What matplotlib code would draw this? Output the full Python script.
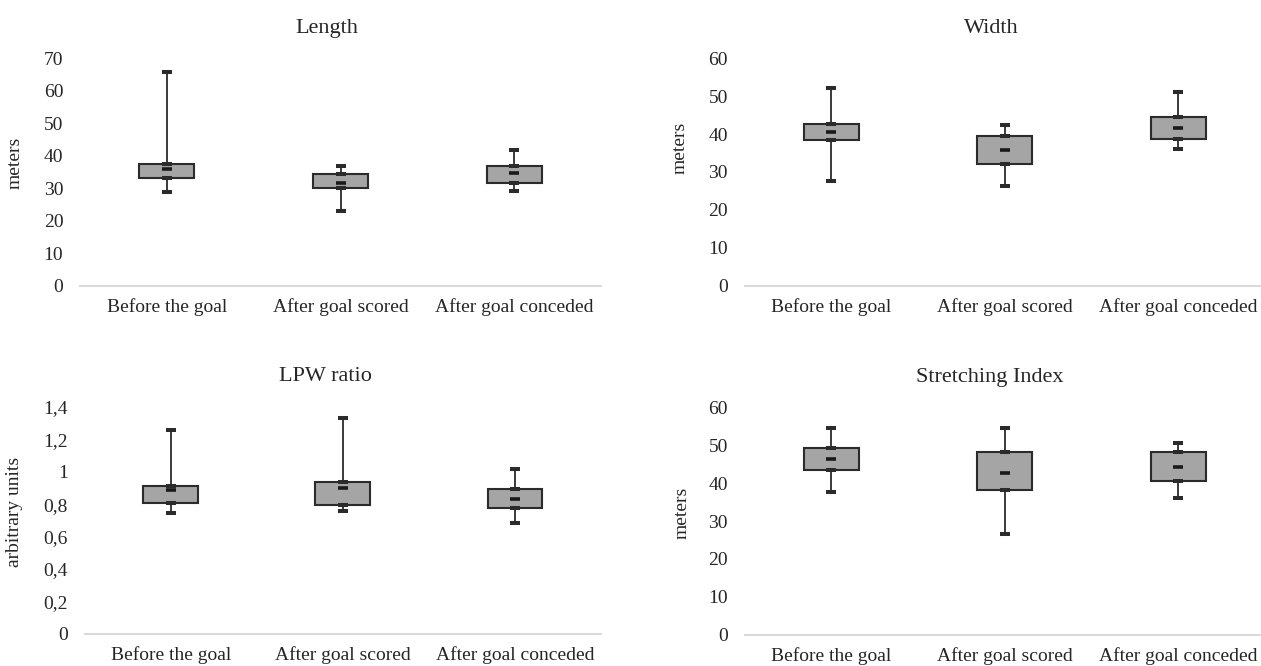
import numpy as np
import matplotlib.pyplot as plt
from matplotlib.ticker import FuncFormatter

plt.rcParams['font.family'] = ['Liberation Serif', 'DejaVu Serif']

# ---------------- datos ----------------
categories = ["Before the goal", "After goal scored", "After goal conceded"]

# Length (meters)
len_min = [28.9, 23.0, 29.1]
len_q1 = [33.0, 30.2, 31.6]
len_med = [35.9, 31.6, 34.6]
len_q3 = [37.4, 34.4, 36.7]
len_max = [65.8, 36.7, 41.8]

# Width (meters)
wid_min = [27.6, 26.4, 36.1]
wid_q1 = [38.4, 32.2, 38.6]
wid_med = [40.6, 35.7, 41.5]
wid_q3 = [42.6, 39.4, 44.4]
wid_max = [52.2, 42.5, 51.2]

# LPW ratio (arbitrary units)
lpw_min = [0.743, 0.756, 0.686]
lpw_q1 = [0.809, 0.792, 0.776]
lpw_med = [0.887, 0.901, 0.830]
lpw_q3 = [0.912, 0.934, 0.893]
lpw_max = [1.255, 1.329, 1.018]

# Stretching Index (meters)
si_min = [37.6, 26.6, 36.1]
si_q1 = [43.5, 38.2, 40.5]
si_med = [46.4, 42.7, 44.3]
si_q3 = [49.3, 48.3, 48.3]
si_max = [54.5, 54.5, 50.6]

TXT = '#262626'
BOX = '#a5a5a5'
EDGE = '#2b2b2b'
AXIS = '#d9d9d9'

W, H = 1261, 666
fig = plt.figure(figsize=(W / 100, H / 100), dpi=100)


def px_axes(x0, x1, ytop, ybot):
    return fig.add_axes([x0 / W, (H - ybot) / H, (x1 - x0) / W, (ybot - ytop) / H])


def draw_panel(ax, mn, q1, med, q3, mx, title, ylabel, ymax, ystep, xright,
               title_x, ylab_x, ylab_y, comma=False):
    x = np.arange(len(categories))
    mn, q1, med, q3, mx = map(np.array, (mn, q1, med, q3, mx))
    ax.bar(x, q3 - q1, bottom=q1, width=0.318, color=BOX, edgecolor=EDGE,
           linewidth=1.5, zorder=2)
    # bigotes (con tapa en ambos extremos, estilo Excel)
    ax.errorbar(x, q3, yerr=[np.zeros(3), mx - q3], fmt='none', ecolor=EDGE,
                elinewidth=1.3, capsize=3.4, capthick=2.9, zorder=3)
    ax.errorbar(x, q1, yerr=[q1 - mn, np.zeros(3)], fmt='none', ecolor=EDGE,
                elinewidth=1.3, capsize=3.4, capthick=2.9, zorder=3)
    ax.plot(x, med, linestyle='none', marker='_', markersize=7.2,
            markeredgewidth=2.6, color='#1a1a1a', zorder=4)

    ax.set_xlim(-0.5, xright)
    ax.set_ylim(0, ymax)
    ax.set_yticks(np.arange(0, ymax + ystep / 2, ystep))
    if comma:
        ax.yaxis.set_major_formatter(FuncFormatter(
            lambda v, p: f"{round(v, 1):g}".replace('.', ',')))
    ax.set_xticks(x)
    ax.set_xticklabels(categories)
    ax.tick_params(axis='both', length=0, labelsize=14, labelcolor=TXT)
    ax.tick_params(axis='y', pad=12)
    ax.tick_params(axis='x', pad=9)
    for s in ['top', 'right', 'left']:
        ax.spines[s].set_visible(False)
    ax.spines['bottom'].set_color(AXIS)
    ax.spines['bottom'].set_linewidth(1.5)

    ax.text(title_x, 1.133, title, transform=ax.transAxes, ha='center',
            va='center', fontsize=16, color=TXT)
    ax.text(ylab_x, ylab_y, ylabel, transform=ax.transAxes, ha='center',
            va='center', rotation=90, fontsize=14, color=TXT)


ax1 = px_axes(80, 601, 58.3, 285.7)
draw_panel(ax1, len_min, len_q1, len_med, len_q3, len_max, "Length", "meters",
           70, 10, 2.5, 0.473, -0.125, 0.54)

ax2 = px_axes(744.7, 1261, 58.3, 285.7)
draw_panel(ax2, wid_min, wid_q1, wid_med, wid_q3, wid_max, "Width", "meters",
           60, 10, 2.477, 0.477, -0.126, 0.605)

ax3 = px_axes(84.7, 601, 406.7, 634)
draw_panel(ax3, lpw_min, lpw_q1, lpw_med, lpw_q3, lpw_max, "LPW ratio",
           "arbitrary units", 1.4, 0.2, 2.5, 0.467, -0.135, 0.538, comma=True)

ax4 = px_axes(744.7, 1261, 407.3, 634.7)
draw_panel(ax4, si_min, si_q1, si_med, si_q3, si_max, "Stretching Index",
           "meters", 60, 10, 2.477, 0.475, -0.122, 0.535)

plt.savefig('out.png', dpi=100)
plt.close()
